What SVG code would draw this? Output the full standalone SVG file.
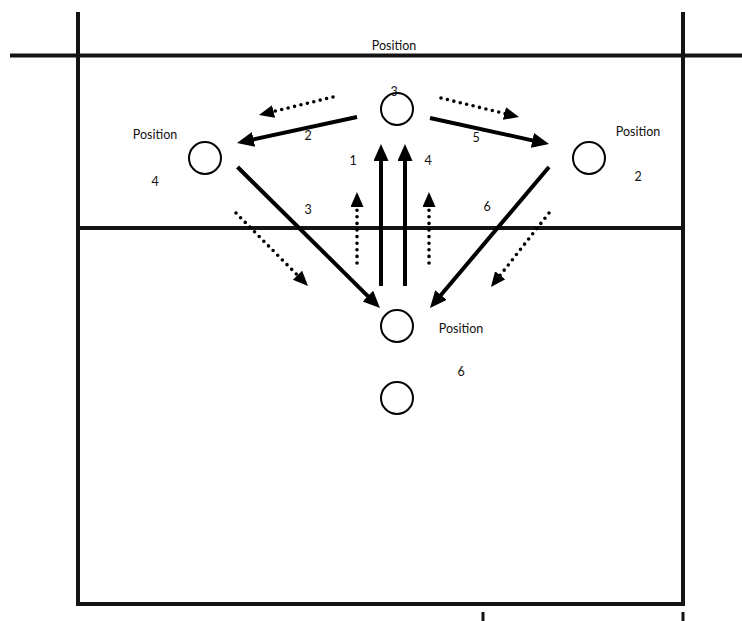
<svg xmlns="http://www.w3.org/2000/svg" width="742" height="621" viewBox="0 0 742 621">
<style>
.court{stroke:#141414;stroke-width:4;fill:none}
.solid{stroke:#000;stroke-width:4;fill:none}
.dot{stroke:#000;stroke-width:3.6;fill:none;stroke-linecap:round;stroke-dasharray:0 6.6}
.pl{fill:#fff;stroke:#000;stroke-width:2}
text{font-family:Lato,"Open Sans","Liberation Sans",sans-serif;font-size:12.5px;fill:#111;text-anchor:middle}
</style>
<defs>
<marker id="ah" markerUnits="userSpaceOnUse" markerWidth="19" markerHeight="16" refX="1" refY="7.5" orient="auto"><path d="M0,0 L17,7.5 L0,15 z" fill="#000"/></marker>
<marker id="ahd" markerUnits="userSpaceOnUse" markerWidth="17" markerHeight="14" refX="1" refY="6.5" orient="auto"><path d="M0,0 L15,6.5 L0,13 z" fill="#000"/></marker>
</defs>
<rect width="742" height="621" fill="#fff"/>
<g id="court">
<line class="court" x1="78" y1="12" x2="78" y2="606"/>
<line class="court" x1="683" y1="12" x2="683" y2="606"/>
<line class="court" x1="10" y1="55.5" x2="742" y2="55.5"/>
<line class="court" x1="78" y1="228" x2="683" y2="228"/>
<line class="court" x1="76" y1="604" x2="685" y2="604"/>
<line stroke="#141414" stroke-width="3" x1="483" y1="612" x2="483" y2="621"/>
<line stroke="#141414" stroke-width="3" x1="683" y1="612" x2="683" y2="621"/>
</g>
<g id="connectors">
<line class="solid" x1="357" y1="117" x2="252.6" y2="139.6" marker-end="url(#ah)"/>
<line class="solid" x1="430" y1="118" x2="533.4" y2="140.6" marker-end="url(#ah)"/>
<line class="solid" x1="381" y1="286" x2="381" y2="160" marker-end="url(#ah)"/>
<line class="solid" x1="405" y1="286" x2="405" y2="160" marker-end="url(#ah)"/>
<line class="solid" x1="237.5" y1="167" x2="368.6" y2="296.8" marker-end="url(#ah)"/>
<line class="solid" x1="549" y1="167" x2="440.3" y2="295.8" marker-end="url(#ah)"/>
<line class="dot" x1="333" y1="97" x2="272.6" y2="111.7" marker-end="url(#ahd)"/>
<line class="dot" x1="441" y1="98" x2="505.4" y2="113.7" marker-end="url(#ahd)"/>
<line class="dot" x1="357" y1="263" x2="357" y2="206" marker-end="url(#ahd)"/>
<line class="dot" x1="429" y1="263" x2="429" y2="206" marker-end="url(#ahd)"/>
<line class="dot" x1="236" y1="213" x2="298.2" y2="276" marker-end="url(#ahd)"/>
<line class="dot" x1="549" y1="213" x2="499.6" y2="276" marker-end="url(#ahd)"/>
<text x="308" y="140">2</text>
<text x="476" y="142">5</text>
<text x="353" y="165">1</text>
<text x="428" y="165">4</text>
<text x="308" y="214">3</text>
<text x="487" y="211">6</text>
</g>
<g id="pos3">
<circle class="pl" cx="397" cy="109" r="16"/>
<text x="394" y="50">Position</text>
<text x="394" y="96">3</text>
</g>
<g id="pos4">
<circle class="pl" cx="205" cy="158" r="16"/>
<text x="155" y="139">Position</text>
<text x="155" y="186">4</text>
</g>
<g id="pos2">
<circle class="pl" cx="589" cy="158" r="16"/>
<text x="638" y="136">Position</text>
<text x="638" y="181">2</text>
</g>
<g id="pos6">
<circle class="pl" cx="397" cy="326" r="16"/>
<text x="461" y="333">Position</text>
<text x="461" y="376">6</text>
</g>
<g id="back">
<circle class="pl" cx="397" cy="398" r="16"/>
</g>
</svg>
